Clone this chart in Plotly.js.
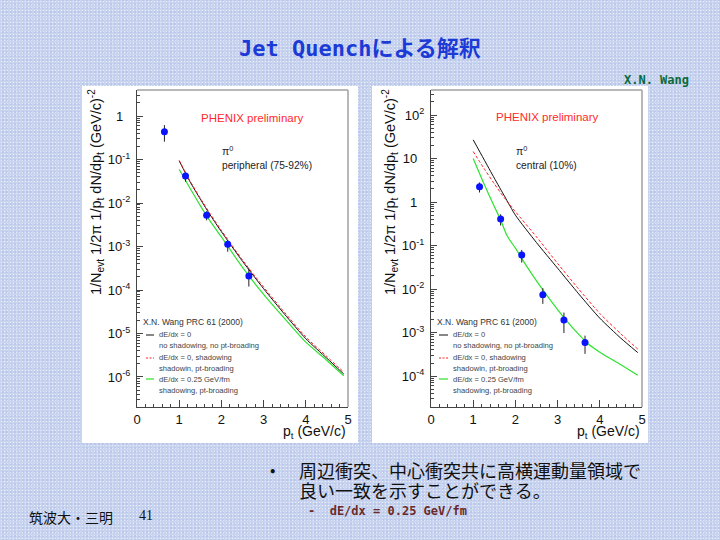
<!DOCTYPE html>
<html><head><meta charset="utf-8">
<script src="https://cdn.plot.ly/plotly-3.0.1.min.js"></script>
<style>
html,body{margin:0;padding:0;width:720px;height:540px;overflow:hidden;
background-color:#c9d5ef;
background-image:radial-gradient(rgba(255,255,255,0.6) 0.7px, transparent 1px), radial-gradient(rgba(150,165,225,0.45) 0.6px, transparent 0.9px);
background-size:3px 3px, 4px 4px; background-position:0 0, 1px 2px;}
#chart{width:720px;height:540px;}
</style></head><body><div id="chart"></div>
<script>
// ---------- data: peripheral (75-92%) ----------
const periphPtX = [0.65, 1.15, 1.65, 2.15, 2.65];
const periphPtY = [0.437, 0.0417, 0.00525, 0.00112, 0.000209];
const periphPtHi = [0.617, 0.0501, 0.00646, 0.00141, 0.000316];
const periphPtLo = [0.257, 0.0309, 0.00398, 0.000759, 0.000120];

const periphCurveX = [1.0, 1.25, 1.5, 1.75, 2.0, 2.5, 3.0, 3.5, 4.0, 4.5, 4.9];
const periphBlack = [0.0933, 0.0316, 0.0123, 0.00501, 0.00219, 4.57e-4, 1.07e-4, 2.75e-5, 7.59e-6, 2.69e-6, 1.17e-6];
const periphRed   = [0.0955, 0.0331, 0.0129, 0.00537, 0.00234, 4.90e-4, 1.17e-4, 3.02e-5, 8.32e-6, 2.95e-6, 1.29e-6];
const periphGreen = [0.0589, 0.0224, 0.00871, 0.00363, 0.00166, 3.31e-4, 7.94e-5, 2.19e-5, 6.31e-6, 2.40e-6, 1.07e-6];

// ---------- data: central (10%) ----------
const centralPtX = [1.15, 1.65, 2.15, 2.65, 3.15, 3.65];
const centralPtY = [2.24, 0.407, 0.0603, 0.00741, 0.00195, 0.000589];
const centralPtHi = [2.82, 0.525, 0.0794, 0.0105, 0.00288, 0.000851];
const centralPtLo = [1.66, 0.288, 0.0407, 0.00457, 0.000977, 0.000324];

const centralCurveX = [1.0, 1.25, 1.5, 1.75, 2.0, 2.5, 3.0, 3.5, 4.0, 4.5, 4.9];
const centralBlack = [26.9, 9.77, 3.55, 1.32, 0.501, 0.117, 0.0302, 0.00776, 0.00214, 7.41e-4, 3.47e-4];
const centralRed   = [14.5, 6.03, 2.63, 1.20, 0.603, 0.158, 0.0389, 0.0100, 0.00275, 9.33e-4, 4.17e-4];
const centralGreenX = [1.0, 1.25, 1.5, 1.65, 1.8, 2.0, 2.25, 2.5, 2.75, 3.0, 3.25, 3.5, 3.75, 4.0, 4.5, 4.9];
const centralGreen = [10, 2.69, 0.794, 0.389, 0.170, 0.0871, 0.0355, 0.0155, 0.00708, 0.00339, 0.00170, 9.12e-4, 5.25e-4, 3.55e-4, 1.82e-4, 1.05e-4];

// ---------- tick labels ----------
const leftTickVals = [1, 0.1, 0.01, 0.001, 1e-4, 1e-5, 1e-6];
const leftTickText = ['1&nbsp;&nbsp;', '10<sup>-1</sup>', '10<sup>-2</sup>', '10<sup>-3</sup>', '10<sup>-4</sup>', '10<sup>-5</sup>', '10<sup>-6</sup>'];
const rightTickVals = [100, 10, 1, 0.1, 0.01, 0.001, 1e-4];
const rightTickText = ['10<sup>2</sup>', '10&nbsp;&nbsp;', '1&nbsp;&nbsp;', '10<sup>-1</sup>', '10<sup>-2</sup>', '10<sup>-3</sup>', '10<sup>-4</sup>'];
const xTickVals = [0, 1, 2, 3, 4, 5];
const xTickText = ['0', '1', '2', '3', '4', '5'];

const legendHeader = 'X.N. Wang PRC 61 (2000)';
const legendLines = ['dE/dx = 0', 'no shadowing, no pt-broading', 'dE/dx = 0, shadowing', 'shadowin, pt-broading', 'dE/dx = 0.25 GeV/fm', 'shadowing, pt-broading'];

// minor tick positions for log axes (2..9 per decade)
function minorTicks(lo, hi){ const v=[]; for(let e=lo;e<=hi;e++){ for(let m=2;m<=9;m++) v.push(m*Math.pow(10,e)); } return v; }

const FONT = 'Liberation Sans, Arial, sans-serif';
const W=720, H=540;
const px = v=>v/W, py = v=>1-v/H;
function txt(text,x,y,size,color,xa,extra){
  return Object.assign({text:text, x:px(x), y:py(y), xref:'paper', yref:'paper', showarrow:false,
    xanchor:xa||'left', yanchor:'middle', borderpad:0, font:{family:FONT,size:size,color:color}}, extra||{});
}

const BLACK='#111111', RED='#ff2020', GREEN='#2ee22e', BLUE='#0a14ff';

function curves(cx, blk, red, gx, grn, xa, ya){
  return [
    {x:cx, y:blk, xaxis:xa, yaxis:ya, type:'scatter', mode:'lines', line:{color:BLACK,width:1,shape:'spline',smoothing:0.6}},
    {x:cx, y:red, xaxis:xa, yaxis:ya, type:'scatter', mode:'lines', line:{color:RED,width:1,dash:'3px,2px',shape:'spline',smoothing:0.6}},
    {x:gx, y:grn, xaxis:xa, yaxis:ya, type:'scatter', mode:'lines', line:{color:GREEN,width:1.2,shape:'spline',smoothing:0.6}}
  ];
}
function points(x, y, hi, lo, xa, ya){
  return {x:x, y:y, xaxis:xa, yaxis:ya, type:'scatter', mode:'markers',
    marker:{color:BLUE, size:7, symbol:'circle'},
    error_y:{type:'data', symmetric:false, array:hi.map((h,i)=>h-y[i]), arrayminus:lo.map((l,i)=>y[i]-l), color:'#222', thickness:1, width:0}};
}

const data = [].concat(
  curves(periphCurveX, periphBlack, periphRed, periphCurveX, periphGreen, 'x', 'y'),
  [points(periphPtX, periphPtY, periphPtHi, periphPtLo, 'x', 'y')],
  curves(centralCurveX, centralBlack, centralRed, centralGreenX, centralGreen, 'x2', 'y2'),
  [points(centralPtX, centralPtY, centralPtHi, centralPtLo, 'x2', 'y2')]
);

const yDom = [1-407/H, 1-90/H];
function xAxis(d0,d1,anchor){
  return {domain:[d0/W, d1/W], range:[0,5], anchor:anchor, showline:true, linecolor:'#444', linewidth:1,
    ticks:'inside', ticklen:7, tickcolor:'#444', tickmode:'array', tickvals:xTickVals, ticktext:xTickText,
    tickfont:{family:FONT, size:13, color:'#111'},
    minor:{tickmode:'linear', tick0:0, dtick:0.2, ticks:'inside', ticklen:3, tickcolor:'#444'},
    showgrid:false, zeroline:false, fixedrange:true};
}
function yAxis(r, tv, tt, anchor, lo, hi){
  return {domain:yDom, type:'log', range:r, anchor:anchor, showline:true, linecolor:'#444', linewidth:1,
    ticks:'inside', ticklen:6, tickcolor:'#444', tickmode:'array', tickvals:tv, ticktext:tt,
    tickfont:{family:FONT, size:13, color:'#111'}, ticklabelstandoff:3,
    minor:{tickmode:'array', tickvals:minorTicks(lo,hi), ticks:'inside', ticklen:3, tickcolor:'#444'},
    showgrid:false, zeroline:false, fixedrange:true};
}

const shapes = [
  {type:'rect', xref:'paper', yref:'paper', x0:px(82), x1:px(358), y0:py(443), y1:py(86), fillcolor:'#ffffff', line:{width:0}, layer:'below'},
  {type:'rect', xref:'paper', yref:'paper', x0:px(372), x1:px(648), y0:py(443), y1:py(86), fillcolor:'#ffffff', line:{width:0}, layer:'below'},
  {type:'line', xref:'x domain', yref:'y domain', x0:0, x1:1, y0:1, y1:1, line:{color:'#a0a0a0', width:1.5}},
  {type:'line', xref:'x domain', yref:'y domain', x0:1, x1:1, y0:0, y1:1, line:{color:'#a0a0a0', width:1.5}},
  {type:'line', xref:'x2 domain', yref:'y2 domain', x0:0, x1:1, y0:1, y1:1, line:{color:'#a0a0a0', width:1.5}},
  {type:'line', xref:'x2 domain', yref:'y2 domain', x0:1, x1:1, y0:0, y1:1, line:{color:'#a0a0a0', width:1.5}}
];
// legend key lines
[[146,154],[439,448]].forEach(function(k){
  shapes.push({type:'line', xref:'paper', yref:'paper', x0:px(k[0]), x1:px(k[1]), y0:py(335), y1:py(335), line:{color:BLACK, width:1}});
  shapes.push({type:'line', xref:'paper', yref:'paper', x0:px(k[0]), x1:px(k[1]), y0:py(358), y1:py(358), line:{color:RED, width:1, dash:'2px,1.5px'}});
  shapes.push({type:'line', xref:'paper', yref:'paper', x0:px(k[0]), x1:px(k[1]), y0:py(379), y1:py(379), line:{color:GREEN, width:1.2}});
});

const JP = 'Noto Sans CJK JP, sans-serif';
const MONO = 'DejaVu Sans Mono, Noto Sans CJK JP, monospace';
const ytitle = '1/N<sub>evt</sub> 1/2π 1/p<sub>t</sub> dN/dp<sub>t</sub> (GeV/c)<sup>-2</sup>';
const ann = [
  txt('Jet Quenchによる解釈', 360, 48, 22, '#1c3ad6', 'center', {font:{family:MONO, size:22, color:'#1c3ad6', weight:'bold'}}),
  txt('X.N. Wang', 656, 80, 12, '#0b6a3a', 'center', {font:{family:MONO, size:12, color:'#0b6a3a', weight:'bold'}}),
  txt('•', 272, 469, 16, '#111', 'center', {font:{family:JP, size:16, color:'#111'}}),
  txt('周辺衝突、中心衝突共に高横運動量領域で', 298, 470, 18, '#111', 'left', {font:{family:JP, size:18, color:'#111'}}),
  txt('良い一致を示すことができる。', 298, 490, 18, '#111', 'left', {font:{family:JP, size:18, color:'#111'}}),
  txt('-  dE/dx = 0.25 GeV/fm', 307, 511, 12, '#6b2a2a', 'left', {font:{family:MONO, size:12, color:'#6b2a2a', weight:'bold'}}),
  txt('筑波大・三明', 28, 517, 14, '#111', 'left', {font:{family:JP, size:14, color:'#111'}}),
  txt('41', 138, 515, 14, '#111', 'left', {font:{family:'Liberation Serif, serif', size:14, color:'#111'}}),
  // left panel texts
  txt('PHENIX preliminary', 200, 118, 11.5, '#ff2a2a'),
  txt('π<sup>0</sup>', 221, 150, 10.5, '#222'),
  txt('peripheral (75-92%)', 221, 166, 10.2, '#222'),
  txt(ytitle, 96, 192, 14.5, '#111', 'center', {textangle:-90}),
  txt('p<sub>t</sub> (GeV/c)', 347, 432, 14, '#111', 'right'),
  // right panel texts
  txt('PHENIX preliminary', 495, 117, 11.5, '#ff2a2a'),
  txt('π<sup>0</sup>', 515, 150, 10.5, '#222'),
  txt('central (10%)', 515, 166, 10.2, '#222'),
  txt(ytitle, 390, 192, 14.5, '#111', 'center', {textangle:-90}),
  txt('p<sub>t</sub> (GeV/c)', 641, 432, 14, '#111', 'right')
];
// legends
const entryY = [334, 345.5, 357.5, 368.5, 379, 390];
[[142,158],[436,452]].forEach(function(p){
  ann.push(txt(legendHeader, p[0], 322, 8.5, '#333'));
  legendLines.forEach(function(s,i){ ann.push(txt(s, p[1], entryY[i], 7.6, '#444')); });
});

const layout = {
  width:W, height:H, margin:{l:0,r:0,t:0,b:0},
  paper_bgcolor:'rgba(0,0,0,0)', plot_bgcolor:'#ffffff',
  showlegend:false, hovermode:false,
  font:{family:FONT, color:'#111'},
  xaxis: xAxis(137, 348, 'y'),
  yaxis: yAxis([-6.69, 0.598], leftTickVals, leftTickText, 'x', -7, 0),
  xaxis2: xAxis(431, 642, 'y2'),
  yaxis2: yAxis([-4.71, 2.575], rightTickVals, rightTickText, 'x2', -5, 2),
  shapes: shapes,
  annotations: ann
};
Plotly.newPlot('chart', data, layout, {staticPlot:true, displayModeBar:false});
</script></body></html>
